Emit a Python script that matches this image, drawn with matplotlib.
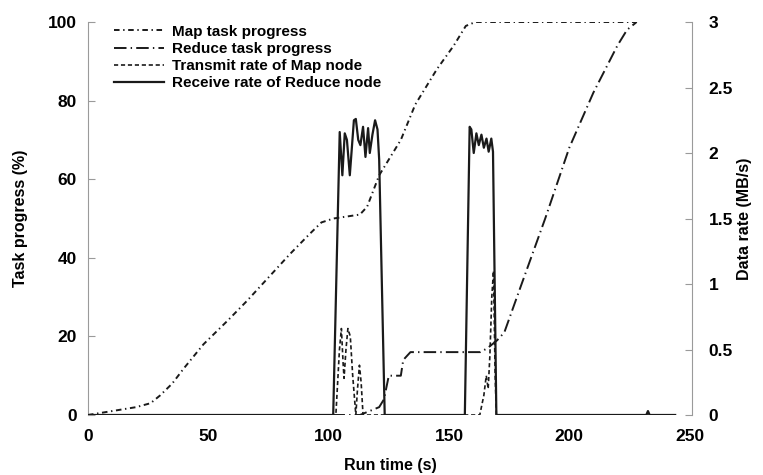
import matplotlib as mpl
mpl.use('Agg')
import matplotlib.pyplot as plt

plt.rcParams['font.family'] = ['Liberation Sans', 'DejaVu Sans']
plt.rcParams['font.weight'] = 'bold'
plt.rcParams['lines.scale_dashes'] = False

# task progress (%), left axis
map_t = [0, 10, 20, 26, 30, 35, 40, 48, 58, 66, 75, 84, 92, 97, 102, 113, 116, 121,
         130, 136, 145, 152, 157, 161, 228]
map_p = [0, 1, 2, 3, 5, 8, 12, 18, 24, 29, 35, 41, 46, 49, 50, 51, 53, 61,
         70, 79, 88, 94, 99, 100, 100]

red_t = [0, 113, 121, 123, 125, 130, 131, 134, 163, 166, 170, 173, 180, 190, 200,
         210, 220, 224, 228]
red_p = [0, 0, 2, 4, 10, 10, 14, 16, 16, 17, 19, 21, 33, 50, 68, 82, 94, 98, 100]

# data rate (MB/s), right axis
rx_t = [0, 101.9, 104.6, 105.7, 106.7, 107.6, 108.8, 110.5, 111.3, 112.3, 113.2,
        114.3, 115.3, 116.4, 117.1, 118.2, 119.3, 120.3, 121.0, 123.3,
        156.6, 158.6, 159.3, 160.3, 161.4, 162.4, 163.5, 164.5, 165.6, 166.5,
        167.6, 168.3, 169.7, 232.0, 232.7, 233.4, 244]
rx_r = [0, 0, 2.16, 1.83, 2.15, 2.1, 1.83, 2.25, 2.26, 2.10, 2.06,
        2.20, 1.97, 2.19, 2.0, 2.14, 2.25, 2.18, 1.95, 0,
        0, 2.2, 2.18, 2.0, 2.15, 2.06, 2.14, 2.04, 2.11, 2.01,
        2.11, 2.01, 0, 0, 0.03, 0, 0]

tx_t = [0, 103, 104.5, 105.3, 106, 106.4, 107.2, 108, 109, 110, 111.3, 112, 112.8,
        113.5, 114.3, 162.8, 164.5, 165.5, 166.3, 167, 167.8, 168.5, 169.2, 169.7, 244]
tx_r = [0, 0, 0.5, 0.66, 0.4, 0.28, 0.5, 0.66, 0.6, 0.3, 0, 0.2, 0.38,
        0.25, 0, 0, 0.15, 0.3, 0.2, 0.45, 0.9, 1.1, 0.3, 0, 0]

ink = '#1a1a1a'
grey = '#9a9a9a'

fig = plt.figure(figsize=(7.63, 4.75), dpi=100)
ax = fig.add_axes([88/763, 1-415/475, 604/763, 393/475])
ax2 = ax.twinx()

l1, = ax.plot(map_t, map_p, color=ink, lw=1.4, dashes=[4, 2.6, 1, 2.6],
              label='Map task progress')
l2, = ax.plot(red_t, red_p, color=ink, lw=1.4, dashes=[9, 3, 1, 3],
              label='Reduce task progress')
l3, = ax2.plot(tx_t, tx_r, color=ink, lw=1.2, dashes=[3, 2],
               label='Transmit rate of Map node')
l4, = ax2.plot(rx_t, rx_r, color=ink, lw=1.6, label='Receive rate of Reduce node')

ax.set_xlim(0, 251)
ax.set_ylim(0, 100)
ax2.set_ylim(0, 3)
ax.set_xticks([0, 50, 100, 150, 200, 250])
ax.set_yticks([0, 20, 40, 60, 80, 100])
ax2.set_yticks([0, 0.5, 1, 1.5, 2, 2.5, 3])
ax2.set_yticklabels(['0', '0.5', '1', '1.5', '2', '2.5', '3'])

for a in (ax, ax2):
    for s in ('top', 'bottom'):
        a.spines[s].set_visible(False)
    a.spines['left'].set_color(grey)
    a.spines['right'].set_color(grey)
ax.spines['right'].set_visible(False)
ax2.spines['left'].set_visible(False)

ax.tick_params(axis='y', direction='in', length=5, color=grey, labelsize=12.5, pad=8)
ax.tick_params(axis='x', length=0, labelsize=12.5, pad=10)
ax2.tick_params(axis='y', which='major', direction='in', length=5, color=grey,
                labelsize=12.5, pad=12)

ax.set_xlabel('Run time (s)', fontsize=11.5, fontweight='bold', labelpad=10)
ax.set_ylabel('Task progress (%)', fontsize=11.5, fontweight='bold', labelpad=14)
ax2.set_ylabel('Data rate (MB/s)', fontsize=11.5, fontweight='bold', labelpad=3)

ax2.legend(handles=[l1, l2, l3, l4], loc='upper left', bbox_to_anchor=(0.025, 1.02),
           frameon=False, fontsize=11, handlelength=3.3, handletextpad=0.5,
           labelspacing=0.2, borderaxespad=0.3)

fig.savefig('out.png', dpi=100)
